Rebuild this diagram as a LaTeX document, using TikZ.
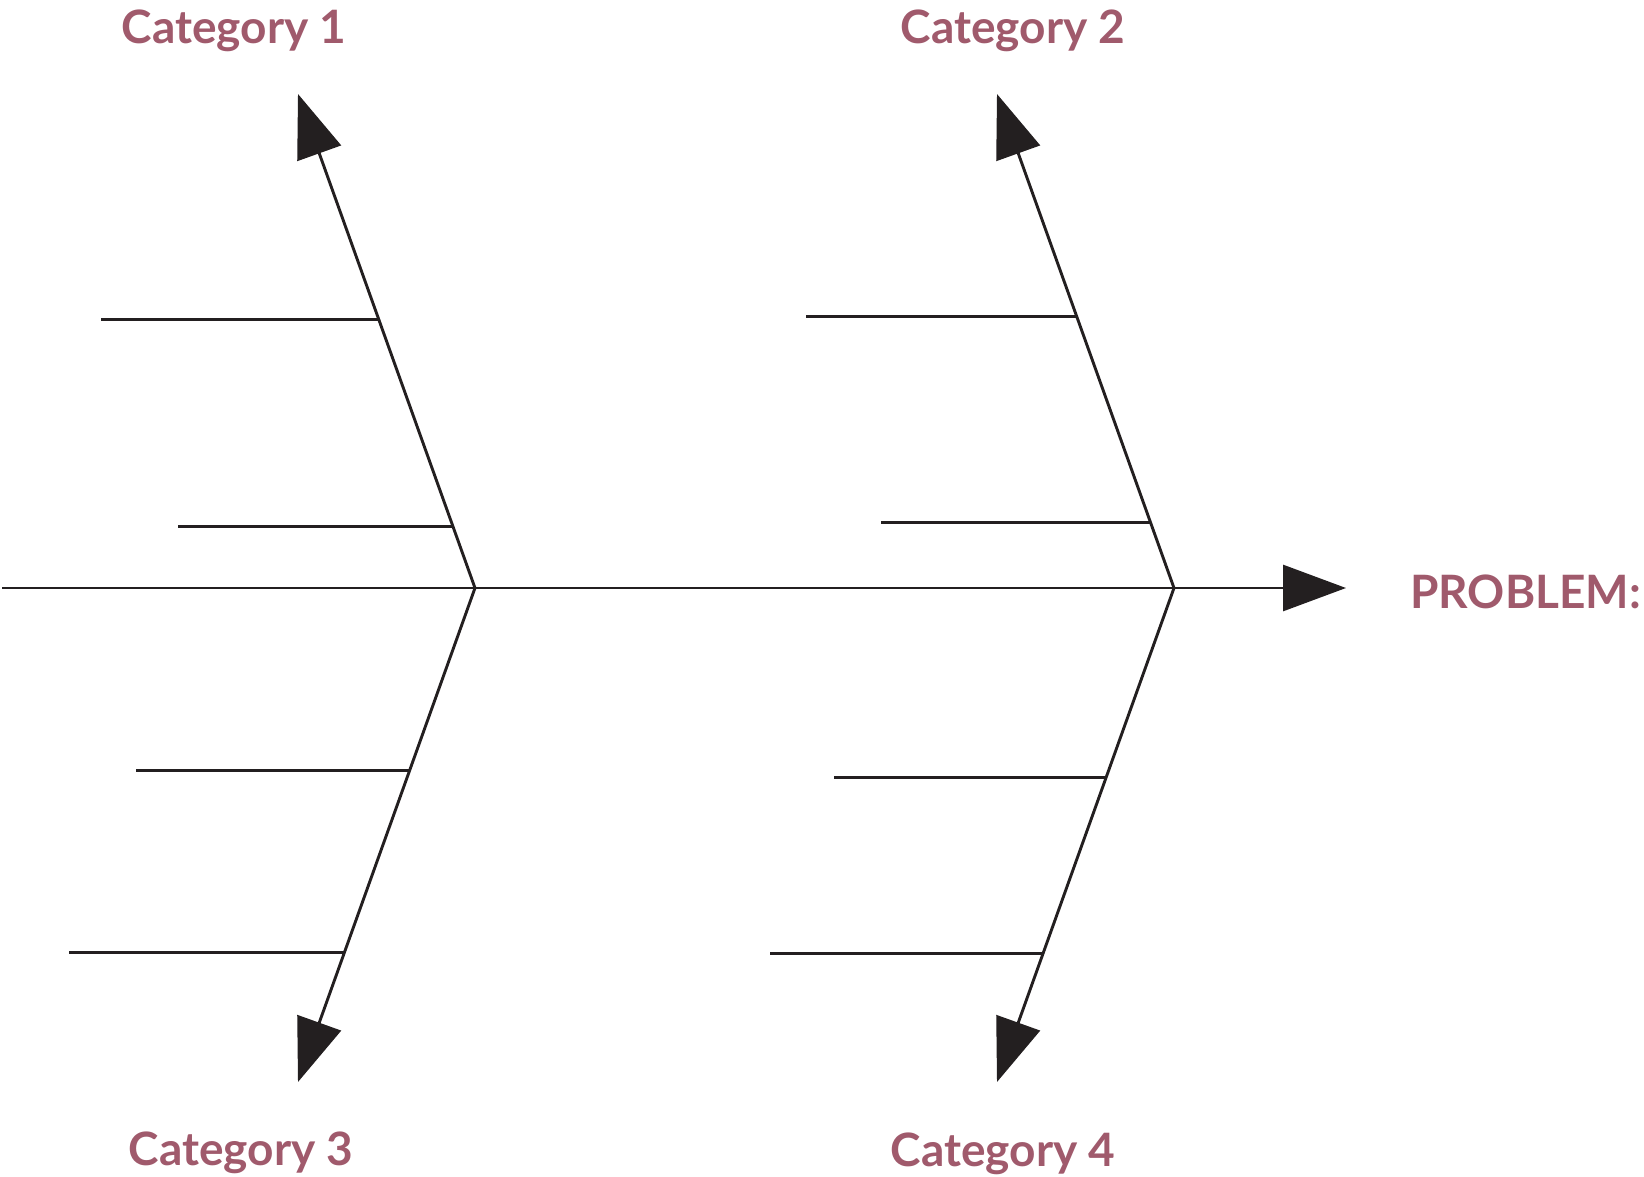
\documentclass[tikz,border=0pt]{standalone}
\usepackage{fontspec}
\setmainfont{Lato}
\usetikzlibrary{arrows.meta, calc, positioning}
\definecolor{catcolor}{RGB}{160,90,108}
\definecolor{bonecolor}{RGB}{35,31,32}
\tikzset{
		bone/.style={
			draw=bonecolor,
			line width=2.9pt,
			-{Triangle[length=63pt,width=46pt]}
		},
		rib/.style={
			draw=bonecolor,
			line width=2.9pt
		},
		cat label/.style={
			text=catcolor,
			font=\fontsize{46}{54}\selectfont\bfseries,
			inner sep=0pt,
			anchor=base
		}
	}

\begin{document}
\begin{tikzpicture}[x=1pt, y=-1pt]
			\useasboundingbox (0,0) rectangle (1644,1177);
			% spine and joints
			\coordinate (tail) at (2,588);
			\coordinate (jL) at (475,588);
			\coordinate (jR) at (1174,588);
			\coordinate (head) at (1346,588);
			% tips of the category bones
			\coordinate (c1) at (298,94);
			\coordinate (c2) at (997,94);
			\coordinate (c3) at (298,1082);
			\coordinate (c4) at (997,1082);
			\draw [bone] (tail) -- (head);
			\foreach \j/\c in {jL/c1, jR/c2, jL/c3, jR/c4}
				\draw [bone] (\j) -- (\c);
			% causes
			\foreach \j/\c/\t/\len [count=\i] in {jL/c1/0.5435/278, jL/c1/0.125/275,
					jL/c3/0.369/274, jL/c3/0.737/276, jR/c2/0.55/271, jR/c2/0.132/270,
					jR/c4/0.384/272, jR/c4/0.739/273} {
				\coordinate (rib\i) at ($(\j)!\t!(\c)$);
				\draw [rib] (rib\i) -- ++(-\len,0);
			}
			\node [cat label] (cat1) at (234,44) {Category 1};
			\node [cat label] (cat2) at (1013,44) {Category 2};
			\node [cat label] (cat3) at (241,1165) {Category 3};
			\node [cat label] (cat4) at (1003,1166) {Category 4};
			\node [cat label, anchor=base west] (problem) at (1410,608) {PROBLEM:};
		\end{tikzpicture}
\end{document}
